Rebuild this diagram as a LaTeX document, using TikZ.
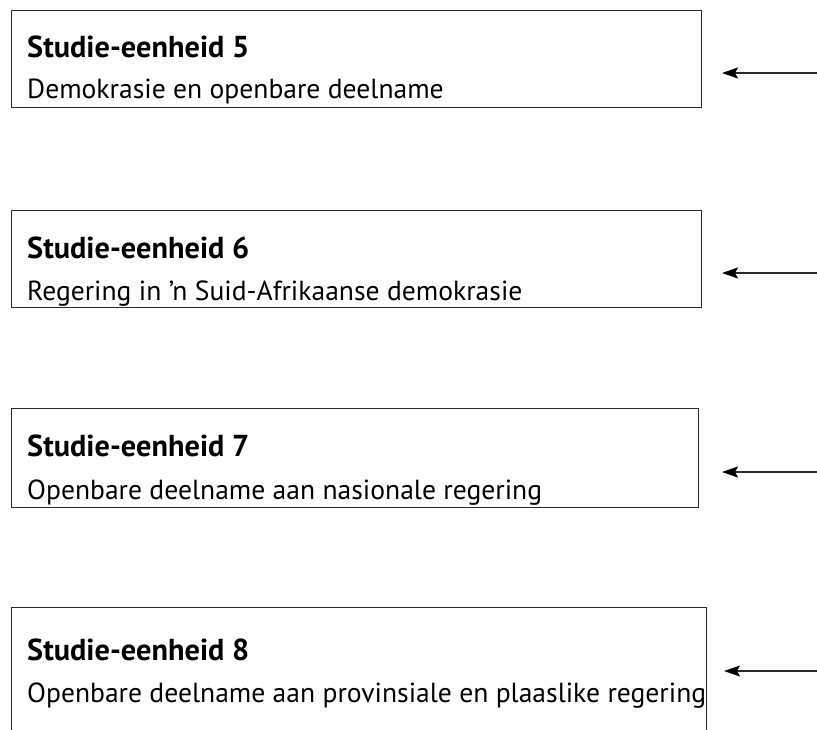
\documentclass[tikz,border=0pt]{standalone}
\usepackage{fontspec}
\setmainfont{PT Sans}
\usetikzlibrary{arrows.meta}
\definecolor{edge}{HTML}{2A2A2A}
\tikzset{
  unitbox/.style={draw=edge, line width=1.3pt, rectangle, inner sep=0pt, anchor=north west},
  unittitle/.style={anchor=base west, inner sep=0pt, font=\fontsize{30.3}{34}\selectfont\bfseries},
  unittext/.style={anchor=base west, inner sep=0pt, font=\fontsize{27.6}{32}\selectfont},
  pointer/.style={draw=edge, line width=1.3pt, -{Stealth[length=16pt,width=11pt,inset=3pt,color=black]}}
}
\begin{document}
\begin{tikzpicture}[x=1pt,y=-1pt]
  \useasboundingbox (0,0) rectangle (817,729);
  \clip (0,0) rectangle (817,729);
  % study unit boxes
  \node[unitbox, minimum width=690pt, minimum height=97pt] (u5) at (11,10) {};
  \node[unitbox, minimum width=690pt, minimum height=97pt] (u6) at (11,210) {};
  \node[unitbox, minimum width=687pt, minimum height=99pt] (u7) at (11,408) {};
  \node[unitbox, minimum width=695pt, minimum height=140pt] (u8) at (11,607) {};
  % headings and descriptions
  \node[unittitle] (t5) at (27,57) {Studie-eenheid 5};
  \node[unittext]  (d5) at (27,98) {Demokrasie en openbare deelname};
  \node[unittitle] (t6) at (27,258) {Studie-eenheid 6};
  \node[unittext]  (d6) at (27,300) {Regering in ’n Suid-Afrikaanse demokrasie};
  \node[unittitle] (t7) at (27,456) {Studie-eenheid 7};
  \node[unittext]  (d7) at (27,499) {Openbare deelname aan nasionale regering};
  \node[unittitle] (t8) at (27,660) {Studie-eenheid 8};
  \node[unittext]  (d8) at (27,702) {Openbare deelname aan provinsiale en plaaslike regering};
  % arrows coming in from the right margin
  \coordinate (s5) at (817,73);  \coordinate (e5) at (722,73);
  \coordinate (s6) at (817,273); \coordinate (e6) at (722,273);
  \coordinate (s7) at (817,472); \coordinate (e7) at (722,472);
  \coordinate (s8) at (817,671); \coordinate (e8) at (724,671);
  \draw[pointer] (s5) -- (e5);
  \draw[pointer] (s6) -- (e6);
  \draw[pointer] (s7) -- (e7);
  \draw[pointer] (s8) -- (e8);
\end{tikzpicture}
\end{document}
